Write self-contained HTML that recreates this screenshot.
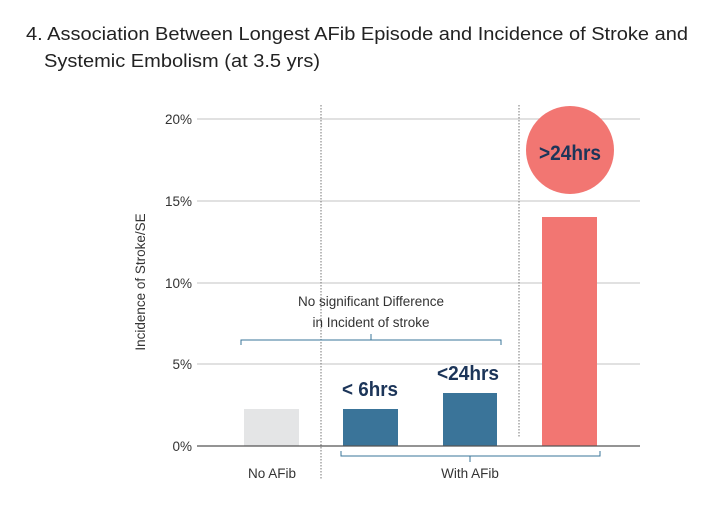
<!DOCTYPE html>
<html><head><style>
body{margin:0;background:#fff;}
svg text{font-family:"Liberation Sans",sans-serif;}
</style></head><body>
<svg width="703" height="509" viewBox="0 0 703 509" xmlns="http://www.w3.org/2000/svg">
<text x="26" y="40" font-size="18" fill="#222" textLength="662" lengthAdjust="spacingAndGlyphs">4. Association Between Longest AFib Episode and  Incidence of Stroke and</text>
<text x="44" y="67" font-size="18" fill="#222" textLength="276" lengthAdjust="spacingAndGlyphs">Systemic Embolism (at 3.5 yrs)</text>
<g stroke="#cfcfcf" stroke-width="1.3">
<line x1="197" y1="119" x2="640" y2="119"/>
<line x1="197" y1="201" x2="640" y2="201"/>
<line x1="197" y1="283" x2="640" y2="283"/>
<line x1="197" y1="364" x2="640" y2="364"/>
</g>
<g font-size="13.5" fill="#333" text-anchor="end">
<text x="192" y="124">20%</text><text x="192" y="206">15%</text><text x="192" y="288">10%</text><text x="192" y="369">5%</text><text x="192" y="451">0%</text>
</g>
<text transform="translate(145,282) rotate(-90)" font-size="13.5" fill="#333" text-anchor="middle">Incidence of Stroke/SE</text>
<g stroke="#777" stroke-width="1" stroke-dasharray="1.5,1.5">
<line x1="321" y1="105" x2="321" y2="480"/>
<line x1="519" y1="105" x2="519" y2="438"/>
</g>
<rect x="244" y="409" width="55" height="37" fill="#e4e5e6"/>
<rect x="343" y="409" width="55" height="37" fill="#3a7499"/>
<rect x="443" y="393" width="54" height="53" fill="#3a7499"/>
<rect x="542" y="217" width="55" height="229" fill="#f27672"/>
<circle cx="570" cy="150" r="44" fill="#f27672"/>
<text x="570" y="160" font-size="21" font-weight="bold" fill="#1c3559" text-anchor="middle" textLength="62" lengthAdjust="spacingAndGlyphs">&gt;24hrs</text>
<text x="370" y="396" font-size="20" font-weight="bold" fill="#1c3559" text-anchor="middle" textLength="56" lengthAdjust="spacingAndGlyphs">&lt; 6hrs</text>
<text x="468" y="380" font-size="20" font-weight="bold" fill="#1c3559" text-anchor="middle" textLength="62" lengthAdjust="spacingAndGlyphs">&lt;24hrs</text>
<line x1="197" y1="446" x2="640" y2="446" stroke="#555" stroke-width="1.3"/>
<g font-size="13.5" fill="#333" text-anchor="middle">
<text x="371" y="306">No significant Difference</text>
<text x="371" y="327">in Incident of stroke</text>
<text x="272" y="478">No AFib</text>
<text x="470" y="478">With AFib</text>
</g>
<g fill="none" stroke="#3a7499" stroke-width="1">
<path d="M241,345 V340 H501 V345 M371,340 V334"/>
<path d="M341,451 V456 H600 V451 M470,456 V462"/>
</g>
</svg>
</body></html>
